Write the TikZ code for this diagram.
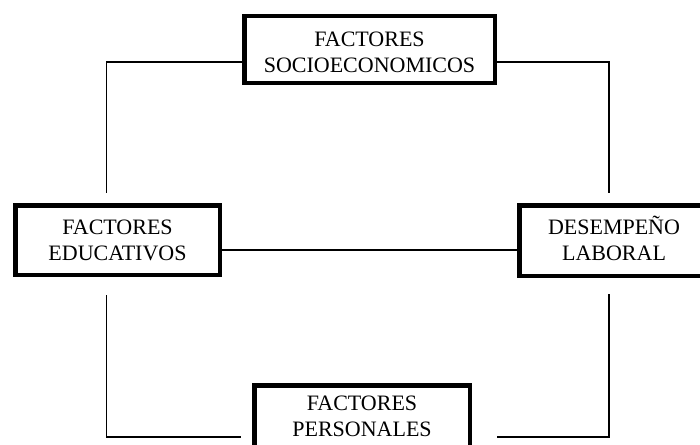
\documentclass[tikz,border=0pt]{standalone}
\usepackage{fontspec}
\setmainfont{Liberation Serif}

\tikzset{
  factor/.style={draw, line width=4.5pt, align=center, inner sep=0pt,
    font=\fontsize{22}{26}\selectfont},
  link/.style={line width=1.3pt}
}

\begin{document}
\begin{tikzpicture}[x=1pt,y=-1pt]
            \useasboundingbox (0,0) rectangle (700,444);

            % Define nodes
            \node[factor, minimum width=250.5pt, minimum height=66.5pt] (socio) at (369.5,49.5) {\rule{0pt}{20.6pt}FACTORES\\SOCIOECONOMICOS};
            \node[factor, minimum width=204.5pt, minimum height=69.5pt] (edu)   at (117.5,240)  {FACTORES\\EDUCATIVOS};
            \node[factor, minimum width=189.5pt, minimum height=70.5pt] (desem) at (614,240.5)  {DESEMPE\smash{Ñ}O\\LABORAL};
            \node[factor, minimum width=215.5pt, minimum height=61.5pt] (pers)  at (362,416)    {FACTORES\\PERSONALES};

            % Corners of the connectors
            \coordinate (tl) at (106.5,62);
            \coordinate (tr) at (609,62);
            \coordinate (bl) at (106.5,437);
            \coordinate (br) at (609,437);

            % Connect the nodes
            \draw[link] (socio.west |- tl) -- (tl) -- ([yshift=10pt]tl |- edu.north);
            \draw[link] (socio.east |- tr) -- (tr) -- ([yshift=10pt]tr |- desem.north);
            \draw[link] ([yshift=-10pt]edu.east) -- ([yshift=-10pt]edu.east -| desem.west);
            \draw[link] ([yshift=-18pt]bl |- edu.south) -- (bl) -- ([xshift=-11pt]pers.west |- bl);
            \draw[link] ([yshift=-16pt]br |- desem.south) -- (br) -- ([xshift=25pt]pers.east |- bl);
          \end{tikzpicture}
\end{document}
